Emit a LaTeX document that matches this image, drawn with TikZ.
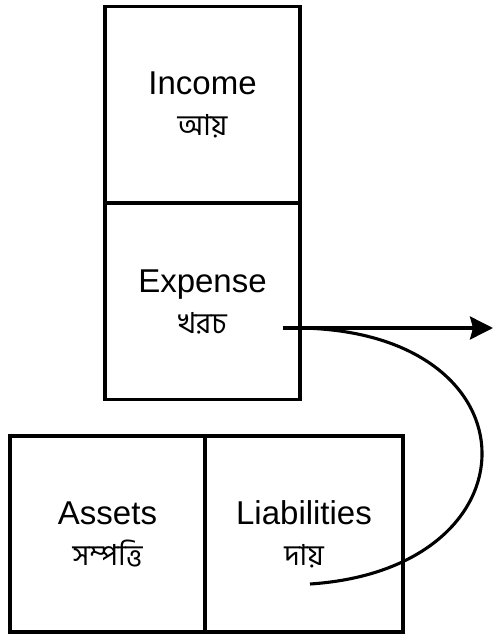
\documentclass[tikz,border=0pt]{standalone}
\usepackage{fontspec}
\setmainfont{Liberation Sans}
\newfontfamily\bnfont[Script=Bengali]{Hind Siliguri}
\usetikzlibrary{arrows.meta}

\begin{document}
\begin{tikzpicture}
[x=1pt,y=-1pt,
  cellDecorate/.style={shape=rectangle,draw,line width=3.1pt,inner sep=0pt,
    minimum width=#1,minimum height=196pt,align=center,
    font=\fontsize{33}{41}\selectfont},
  lineDecorate/.style={line width=3.1pt}]
\useasboundingbox (0,0) rectangle (495,634);
%% cells of the accounts
\foreach \nodename/\x/\y/\w/\entext/\bntext in {
  income/202.5/104.5/195/Income/আয়,
  expense/202.5/301.5/195/Expense/খরচ,
  assets/107.5/534/195/Assets/সম্পত্তি,
  liabilities/304/534/198/Liabilities/দায়}
{
  \node (\nodename) at (\x,\y) [cellDecorate=\w pt]
    {\entext\\{\bnfont\fontsize{29}{29}\selectfont\bntext}};
}
%% ends of the connectors
\coordinate (arrowStart) at (283,328);
\coordinate (arrowEnd) at (493,328);
\coordinate (curveEnd) at (310,584);
%% connectors
\draw[lineDecorate,-{Stealth[length=23pt,width=23pt,inset=3pt]}] (arrowStart) -- (arrowEnd);
\draw[lineDecorate] (expense.east |- arrowStart) .. controls +(240,5) and +(230,-15) .. (curveEnd);
\end{tikzpicture}
\end{document}
